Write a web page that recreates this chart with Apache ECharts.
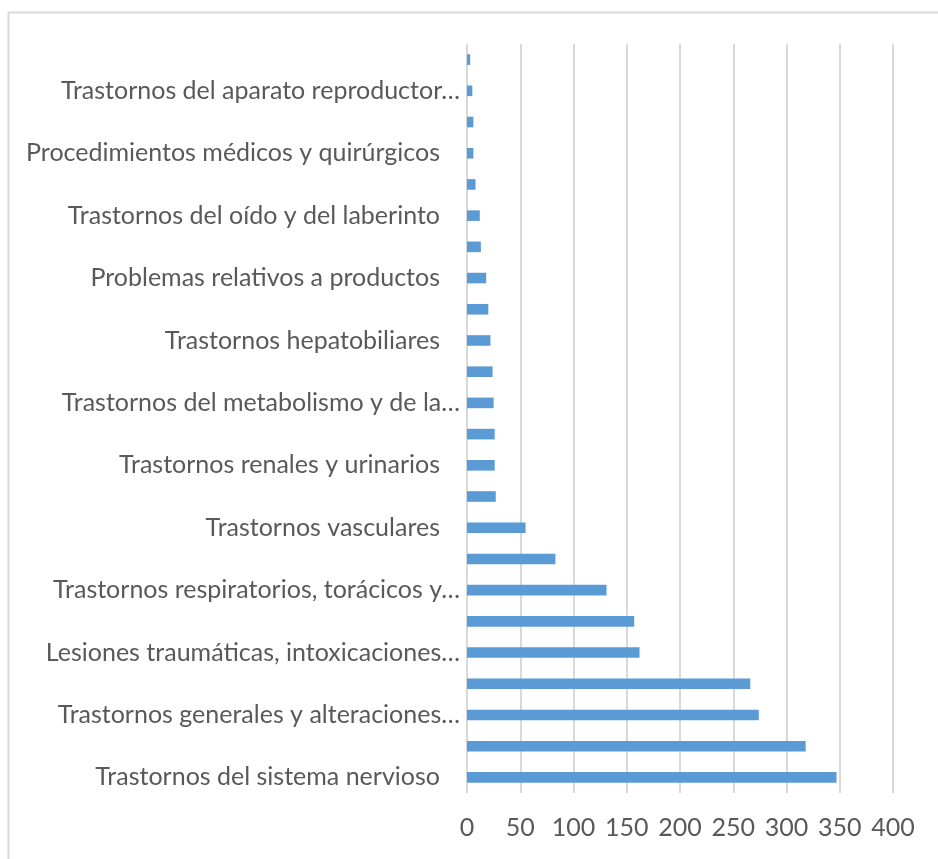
<!DOCTYPE html>
<html>
<head>
<meta charset="utf-8">
<script src="https://cdn.jsdelivr.net/npm/echarts@6/dist/echarts.min.js"></script>
<style>
html,body{margin:0;padding:0;background:#fff;}
#chart{width:938px;height:859px;}
</style>
</head>
<body>
<div id="chart"></div>
<script>
// Categories, bottom to top
const categories = [
  "Trastornos del sistema nervioso",
  "Trastornos gastrointestinales",
  "Trastornos generales y alteraciones en el lugar de administración",
  "Trastornos de la piel y del tejido subcutáneo",
  "Lesiones traumáticas, intoxicaciones y complicaciones de procedimientos terapéuticos",
  "Trastornos musculoesqueléticos y del tejido conjuntivo",
  "Trastornos respiratorios, torácicos y mediastínicos",
  "Trastornos psiquiátricos",
  "Trastornos vasculares",
  "Infecciones e infestaciones",
  "Trastornos renales y urinarios",
  "Trastornos oculares",
  "Trastornos del metabolismo y de la nutrición",
  "Trastornos cardíacos",
  "Trastornos hepatobiliares",
  "Exploraciones complementarias",
  "Problemas relativos a productos",
  "Trastornos de la sangre y del sistema linfático",
  "Trastornos del oído y del laberinto",
  "Trastornos del sistema inmunológico",
  "Procedimientos médicos y quirúrgicos",
  "Neoplasias benignas, malignas y no especificadas",
  "Trastornos del aparato reproductor y de la mama",
  "Trastornos endocrinos"
];
const values = [347, 318, 274, 266, 162, 157, 131, 83, 55, 27, 26, 26, 25, 24, 22, 20, 18, 13, 12, 8, 6, 6, 5, 3];
const xTicks = [0, 50, 100, 150, 200, 250, 300, 350, 400];

const FONT_FAMILY = 'Lato';
const FONT_SIZE = 25;
const MAX_LABEL_W = 418;

const ctx = document.createElement('canvas').getContext('2d');
ctx.font = FONT_SIZE + 'px ' + FONT_FAMILY;
function fitLabel(text) {
  if (ctx.measureText(text).width <= MAX_LABEL_W) return {text: text, cut: false};
  const words = text.split(' ');
  let out = '';
  for (let i = 0; i < words.length; i++) {
    const cand = out ? out + ' ' + words[i] : words[i];
    if (ctx.measureText(cand + '…').width > MAX_LABEL_W) break;
    out = cand;
  }
  return {text: out + '…', cut: true};
}

const chart = echarts.init(document.getElementById('chart'), null, {renderer: 'canvas'});
chart.setOption({
  animation: false,
  backgroundColor: '#ffffff',
  graphic: [{
    type: 'rect', left: 6, top: 10, z: -10,
    shape: {width: 1000, height: 1000},
    style: {fill: 'none', stroke: '#d9d9d9', lineWidth: 2}
  }],
  grid: {left: 467, right: 45, top: 44, bottom: 66, containLabel: false},
  xAxis: {
    type: 'value', min: xTicks[0], max: xTicks[xTicks.length - 1], interval: 50,
    axisLine: {show: false}, axisTick: {show: false},
    splitLine: {show: true, lineStyle: {color: '#d9d9d9', width: 2}},
    axisLabel: {color: '#595959', fontFamily: FONT_FAMILY, fontSize: FONT_SIZE, margin: 22}
  },
  yAxis: {
    type: 'category', data: categories,
    axisLine: {show: false}, axisTick: {show: false},
    axisLabel: {
      interval: 1, margin: 7, color: '#595959',
      fontFamily: FONT_FAMILY, fontSize: FONT_SIZE, align: 'right',
      formatter: function (v) {
        const r = fitLabel(v);
        return r.cut ? '{t|' + r.text + '}' : '{t|' + r.text + '}{p|}';
      },
      rich: {
        t: {color: '#595959', fontFamily: FONT_FAMILY, fontSize: FONT_SIZE},
        p: {width: 20}
      }
    }
  },
  series: [{
    type: 'bar', data: values, barWidth: '34%',
    itemStyle: {color: '#5b9bd5'}
  }]
});
</script>
</body>
</html>
